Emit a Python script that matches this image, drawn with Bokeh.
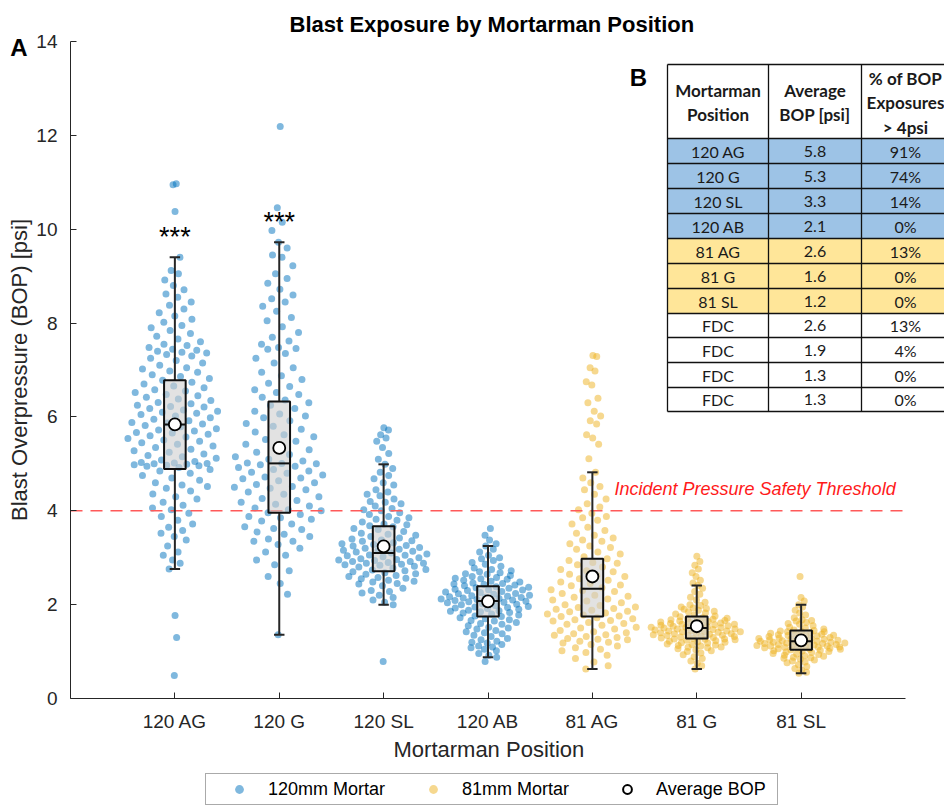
import numpy as np
from bokeh.plotting import figure
from bokeh.layouts import column
from bokeh.models import (Range1d, FixedTicker, Legend, LegendItem, Title, ColumnDataSource,
                          LinearAxis)
from bokeh.core.properties import value
from bokeh.embed import file_html
from bokeh.resources import INLINE

# ---------------- data ----------------
categories = ["120 AG", "120 G", "120 SL", "120 AB", "81 AG", "81 G", "81 SL"]
mortar = ["120mm", "120mm", "120mm", "120mm", "81mm", "81mm", "81mm"]

bop_120_ag = [
    10.97, 10.95, 10.38,
    9.40, 9.12, 9.05,
    8.92, 8.80, 8.71, 8.62, 8.55,
    8.45, 8.38, 8.30, 8.22, 8.15, 8.08, 8.02,
    7.95, 7.90, 7.84, 7.78, 7.72, 7.66, 7.60, 7.55, 7.52,
    7.48, 7.44, 7.42, 7.40, 7.38, 7.36, 7.33, 7.30, 7.25, 7.20, 7.15, 7.10, 7.05, 7.02,
    6.98, 6.95, 6.90, 6.86, 6.82, 6.78, 6.74, 6.70, 6.66, 6.62, 6.58, 6.55, 6.52,
    6.48, 6.45, 6.42, 6.38, 6.35, 6.31, 6.28, 6.25, 6.22, 6.21, 6.18, 6.15, 6.12, 6.10, 6.08, 6.05, 6.02,
    5.98, 5.95, 5.92, 5.88, 5.87, 5.85, 5.82, 5.79, 5.75, 5.72, 5.70, 5.67, 5.66, 5.63, 5.60, 5.57, 5.54, 5.51,
    5.48, 5.45, 5.42, 5.38, 5.35, 5.31, 5.28, 5.25, 5.21, 5.18, 5.15, 5.12, 5.08, 5.05, 5.03, 5.02, 5.01, 5.00,
    4.99, 4.98, 4.97, 4.96, 4.95, 4.92, 4.88, 4.85, 4.80, 4.75, 4.70, 4.65, 4.60, 4.55, 4.52,
    4.48, 4.42, 4.36, 4.30, 4.25, 4.18, 4.12, 4.06, 4.02,
    3.95, 3.88, 3.80, 3.72, 3.65, 3.58, 3.52,
    3.45, 3.38, 3.25, 3.12, 3.05,
    2.95, 2.88, 2.76,
    1.77, 1.30, 0.49,
]

bop_120_g = [
    12.19, 10.46, 10.15, 9.97,
    9.72, 9.60, 9.45, 9.40, 9.22, 9.05,
    8.95, 8.85, 8.72, 8.60, 8.52,
    8.45, 8.36, 8.25, 8.12, 8.05,
    7.92, 7.80, 7.70, 7.62, 7.55,
    7.48, 7.46, 7.44, 7.35, 7.25, 7.15, 7.05,
    6.95, 6.88, 6.80, 6.72, 6.65, 6.58, 6.52,
    6.48, 6.42, 6.36, 6.30, 6.25, 6.18, 6.12, 6.06, 6.02,
    5.98, 5.92, 5.86, 5.80, 5.74, 5.68, 5.62, 5.58, 5.52,
    5.48, 5.42, 5.36, 5.30, 5.25, 5.20, 5.15, 5.10, 5.06, 5.02, 5.01, 5.00,
    4.98, 4.95, 4.92, 4.88, 4.85, 4.82, 4.80, 4.76, 4.72, 4.70, 4.68, 4.64, 4.60, 4.56, 4.52, 4.50,
    4.48, 4.45, 4.40, 4.35, 4.30, 4.26, 4.22, 4.18, 4.14, 4.10, 4.06, 4.02, 4.00,
    3.96, 3.92, 3.88, 3.85, 3.82, 3.78, 3.72, 3.66, 3.62, 3.60, 3.55, 3.50,
    3.45, 3.40, 3.35, 3.35, 3.28, 3.20, 3.12, 3.05,
    2.95, 2.85, 2.72, 2.60,
    2.45, 2.22,
    1.36,
]

bop_120_sl = [
    5.77, 5.72, 5.62, 5.55, 5.48, 5.35, 5.22, 5.10,
    4.99, 4.90, 4.82, 4.75, 4.68, 4.60, 4.55,
    4.45, 4.40, 4.35, 4.32, 4.25, 4.20, 4.18, 4.15, 4.10, 4.05, 4.02, 4.00,
    3.96, 3.92, 3.88, 3.85, 3.82, 3.80, 3.76, 3.72, 3.70, 3.68, 3.66, 3.62, 3.60, 3.56, 3.52, 3.50,
    3.48, 3.45, 3.42, 3.40, 3.38, 3.36, 3.35, 3.32, 3.30, 3.28, 3.26, 3.25, 3.22, 3.22, 3.20, 3.18,
    3.16, 3.15, 3.14, 3.12, 3.10, 3.08, 3.06, 3.05, 3.04, 3.02, 3.00,
    2.98, 2.96, 2.95, 2.94, 2.92, 2.92, 2.90, 2.88, 2.88, 2.86, 2.85, 2.84, 2.82, 2.80, 2.78,
    2.75, 2.74, 2.72, 2.70, 2.68, 2.66, 2.65, 2.62, 2.60, 2.58, 2.56, 2.55, 2.52, 2.50,
    2.48, 2.45, 2.44, 2.40, 2.35, 2.30, 2.28, 2.25, 2.20, 2.15, 2.10, 2.05, 2.00,
    0.79,
]

bop_120_ab = [
    3.62, 3.48, 3.38, 3.30,
    3.25, 3.18, 3.12, 3.05, 3.00,
    2.98, 2.94, 2.90, 2.86, 2.82, 2.78, 2.75,
    2.72, 2.70, 2.68, 2.66, 2.65, 2.62, 2.60, 2.58, 2.56, 2.55, 2.54, 2.52, 2.50,
    2.48, 2.46, 2.45, 2.44, 2.43, 2.42, 2.40, 2.38, 2.37, 2.36, 2.35, 2.33, 2.32, 2.31, 2.30, 2.28, 2.27, 2.26,
    2.24, 2.23, 2.22, 2.20, 2.19, 2.18, 2.17, 2.16, 2.15, 2.14, 2.13, 2.12, 2.11, 2.10, 2.09, 2.08, 2.07,
    2.06, 2.05, 2.04, 2.02, 2.01, 2.00,
    1.98, 1.96, 1.95, 1.94, 1.93, 1.92, 1.90, 1.88, 1.87, 1.86, 1.85, 1.83, 1.82, 1.80, 1.78, 1.76, 1.75,
    1.72, 1.70, 1.68, 1.66, 1.65, 1.62, 1.60, 1.58, 1.55, 1.52, 1.50,
    1.48, 1.45, 1.42, 1.40, 1.38, 1.35, 1.32, 1.28, 1.25,
    1.22, 1.20, 1.18, 1.15, 1.12, 1.10, 1.08, 1.05, 1.02,
    0.96, 0.92, 0.88, 0.79,
]

bop_81_ag = [
    7.31, 7.29, 7.05, 6.98, 6.75, 6.68, 6.40, 6.30, 6.12, 6.02, 5.92, 5.85, 5.62, 5.55, 5.42, 5.11,
    4.82, 4.70, 4.60, 4.52,
    4.45, 4.35, 4.25, 4.15, 4.08, 4.02,
    3.95, 3.88, 3.85, 3.80, 3.72, 3.65, 3.58, 3.52,
    3.48, 3.42, 3.38, 3.35, 3.30, 3.25, 3.22, 3.18, 3.12, 3.08, 3.02,
    2.98, 2.94, 2.90, 2.88, 2.85, 2.80, 2.75, 2.72, 2.70, 2.65, 2.62, 2.60, 2.55, 2.52,
    2.48, 2.45, 2.42, 2.40, 2.36, 2.32, 2.30, 2.28, 2.24, 2.20, 2.18, 2.16, 2.12, 2.10, 2.08, 2.04, 2.00,
    1.98, 1.95, 1.94, 1.92, 1.90, 1.88, 1.86, 1.85, 1.82, 1.80, 1.78, 1.76, 1.75, 1.72, 1.70,
    1.68, 1.66, 1.65, 1.62, 1.60, 1.58, 1.56, 1.52, 1.50,
    1.48, 1.45, 1.42, 1.40, 1.38, 1.36, 1.35, 1.32, 1.30, 1.28, 1.26, 1.25, 1.22, 1.20,
    1.18, 1.15, 1.12, 1.08, 1.05, 1.02,
    0.98, 0.92, 0.85, 0.78, 0.70, 0.63,
]

bop_81_g = [
    3.03, 2.92, 2.84, 2.76, 2.68, 2.60, 2.52, 2.46,
    2.41, 2.35, 2.28, 2.22, 2.16, 2.10, 2.05, 2.00,
    1.98, 1.95, 1.93, 1.92, 1.90, 1.88, 1.86, 1.85, 1.82, 1.80, 1.78, 1.76,
    1.74, 1.72, 1.71, 1.70, 1.69, 1.68, 1.67, 1.66, 1.65, 1.64, 1.63, 1.62, 1.61, 1.60,
    1.59, 1.58, 1.58, 1.57, 1.56, 1.55, 1.55, 1.54, 1.53, 1.52, 1.52, 1.51, 1.50,
    1.49, 1.48, 1.48, 1.47, 1.46, 1.45, 1.44, 1.44, 1.43, 1.42, 1.42, 1.41, 1.40,
    1.39, 1.38, 1.38, 1.37, 1.36, 1.35, 1.35, 1.34, 1.33, 1.32, 1.31, 1.30,
    1.29, 1.28, 1.27, 1.27, 1.26, 1.25,
    1.24, 1.23, 1.22, 1.21, 1.20, 1.19, 1.18, 1.16, 1.15, 1.14, 1.13, 1.12,
    1.10, 1.09, 1.08, 1.06, 1.04, 1.02, 1.00,
    0.97, 0.93, 0.89, 0.85, 0.80, 0.75, 0.70, 0.63,
]

bop_81_sl = [
    2.60, 2.15, 2.08,
    2.00, 1.95, 1.88, 1.82, 1.78,
    1.72, 1.68, 1.66, 1.65, 1.62, 1.60, 1.58, 1.55, 1.52, 1.50,
    1.48, 1.46, 1.45, 1.44, 1.43, 1.42, 1.42, 1.40, 1.39, 1.38, 1.37, 1.36, 1.35, 1.35,
    1.34, 1.33, 1.32, 1.31, 1.30, 1.29, 1.28, 1.28, 1.27, 1.26, 1.25, 1.25,
    1.24, 1.23, 1.22, 1.22, 1.21, 1.20, 1.20, 1.19, 1.18, 1.18, 1.17, 1.17, 1.16, 1.15, 1.15,
    1.14, 1.13, 1.13, 1.12, 1.12, 1.11, 1.10, 1.09, 1.09, 1.08, 1.08, 1.07, 1.06, 1.05, 1.05,
    1.04, 1.03, 1.02, 1.01, 1.00,
    0.99, 0.98, 0.96, 0.95, 0.94, 0.92, 0.91, 0.90, 0.88, 0.87, 0.86, 0.84, 0.82, 0.80, 0.78, 0.76,
    0.72, 0.68, 0.64, 0.60, 0.56, 0.54,
]

groups = [bop_120_ag, bop_120_g, bop_120_sl, bop_120_ab, bop_81_ag, bop_81_g, bop_81_sl]

# box-plot statistics
whisker_lo = [2.76, 1.36, 2.00, 0.88, 0.63, 0.63, 0.54]
q1 = [4.89, 3.96, 2.71, 1.75, 1.75, 1.28, 1.04]
median = [5.84, 5.01, 3.10, 2.08, 2.34, 1.50, 1.22]
q3 = [6.78, 6.33, 3.67, 2.39, 2.98, 1.75, 1.45]
whisker_hi = [9.40, 9.72, 4.99, 3.25, 4.82, 2.41, 2.00]
mean_bop = [5.84, 5.34, 3.24, 2.07, 2.60, 1.54, 1.24]

significance = ["***", "***"]          # for the first two positions
significance_y = [9.91, 10.23]

threshold_psi = 4.0
y_ticks = [0, 2, 4, 6, 8, 10, 12, 14]

legend_labels = ["120mm Mortar", "81mm Mortar", "Average BOP"]

# table (panel B)
table_header = [["Mortarman", "Position"], ["Average", "BOP [psi]"], ["% of BOP", "Exposures", "> 4psi"]]
table_position = ["120 AG", "120 G", "120 SL", "120 AB", "81 AG", "81 G", "81 SL", "FDC", "FDC", "FDC", "FDC"]
table_avg = ["5.8", "5.3", "3.3", "2.1", "2.6", "1.6", "1.2", "2.6", "1.9", "1.3", "1.3"]
table_pct = ["91%", "74%", "14%", "0%", "13%", "0%", "0%", "13%", "4%", "0%", "0%"]
table_group = ["120", "120", "120", "120", "81", "81", "81", "FDC", "FDC", "FDC", "FDC"]

# ---------------- styling / layout ----------------
FONT = "Liberation Sans"
TFONT = "Lato"
BLUE = "#0072BD"
GOLD = "#EDB120"
AX = "#262626"

W, H_MAIN, H_LEG = 944, 765, 40
FL, FR, FT, FB = 70, 944, 41, 698     # frame edges in page pixels
PXX = 104.375                         # pixels per category unit
PXY = (FB - FT) / 14.0                # pixels per psi
X_END = (FR - FL) / PXX


def dx(px):
    return (px - FL) / PXX


def dy(py):
    return (FB - py) / PXY


def swarm_offsets(vals, half_width=0.45):
    y = np.asarray(vals, float)
    n = len(y)
    q75, q25 = np.percentile(y, [75, 25])
    h = 0.9 * min(y.std(), (q75 - q25) / 1.34) * n ** (-0.2)
    dens = np.exp(-0.5 * ((y[:, None] - y[None, :]) / h) ** 2).sum(1)
    dens = dens / dens.max()
    order = np.argsort(y, kind="stable")
    u = np.empty(n)
    u[order] = 2.0 * ((np.arange(n) * 0.6180339887 + 0.3) % 1.0) - 1.0
    return dens * half_width * u


p = figure(width=W, height=H_MAIN, output_backend="svg", toolbar_location=None,
           x_range=Range1d(0, X_END), y_range=Range1d(0, 14),
           min_border_left=FL, min_border_right=W - FR,
           min_border_top=FT, min_border_bottom=H_MAIN - FB)
p.outline_line_color = None
p.xgrid.grid_line_color = None
p.ygrid.grid_line_color = None
p.background_fill_color = "white"

# title
p.title.text = "Blast Exposure by Mortarman Position"
p.title.align = "left"
p.title.offset = 289 - FL
p.title.text_font = FONT
p.title.text_font_size = "22px"
p.title.text_font_style = "bold"
p.title.text_color = "black"
p.title.standoff = 10

# scatter points
xs, ys, cs = [], [], []
for i, vals in enumerate(groups):
    off = swarm_offsets(vals)
    xs.extend((i + 1 + off).tolist())
    ys.extend(vals)
    cs.extend([BLUE if mortar[i] == "120mm" else GOLD] * len(vals))
src = ColumnDataSource(dict(x=xs, y=ys, c=cs))
p.scatter("x", "y", source=src, size=7, fill_color="c", fill_alpha=0.5, line_color=None)

# threshold
p.segment(x0=[0], y0=[threshold_psi], x1=[8], y1=[threshold_psi], line_color="#ff5a5a",
          line_width=1.6, line_dash="12 8")
p.text(x=[dx(614)], y=[dy(488)], text=["Incident Pressure Safety Threshold"],
       text_font=value(FONT), text_font_size="18px", text_font_style="italic",
       text_color="#ff1a1a", text_align="left", text_baseline="middle")

# box plots
pos = np.arange(1, len(categories) + 1, dtype=float)
BW = 0.1035
CW = 0.05
p.segment(x0=pos, y0=q3, x1=pos, y1=whisker_hi, line_color=AX, line_width=2)
p.segment(x0=pos, y0=whisker_lo, x1=pos, y1=q1, line_color=AX, line_width=2)
p.segment(x0=pos - CW, y0=whisker_hi, x1=pos + CW, y1=whisker_hi, line_color=AX, line_width=2)
p.segment(x0=pos - CW, y0=whisker_lo, x1=pos + CW, y1=whisker_lo, line_color=AX, line_width=2)
p.quad(left=pos - BW, right=pos + BW, bottom=q1, top=q3, fill_color="#cfcfcf", fill_alpha=0.6,
       line_color="#111111", line_width=2)
p.segment(x0=pos - BW, y0=median, x1=pos + BW, y1=median, line_color="#111111", line_width=2)
p.scatter(pos, mean_bop, size=12, fill_color="white", line_color="black", line_width=1.8)

# significance stars
p.text(x=pos[:len(significance)], y=significance_y, text=significance, text_font=value(FONT),
       text_font_size="27px", text_color="black", text_align="center", text_baseline="middle",
       y_offset=4)

# ---------------- table (panel B) ----------------
col_px = [667, 768, 861, 951]
row_px = [64, 138, 163, 188, 213, 238, 263, 288, 313, 337, 362, 387, 411]
fills = {"120": "#9DC3E6", "81": "#FFE699", "FDC": "#FFFFFF"}
row_fill = ["#FFFFFF"] + [fills[g] for g in table_group]
p.quad(left=[dx(col_px[0])] * len(row_fill), right=[dx(col_px[-1])] * len(row_fill),
       top=[dy(v) for v in row_px[:-1]], bottom=[dy(v) for v in row_px[1:]],
       fill_color=row_fill, line_color=None)
hx0 = [dx(col_px[0])] * len(row_px)
hx1 = [dx(col_px[-1])] * len(row_px)
hy = [dy(v) for v in row_px]
p.segment(x0=hx0, y0=hy, x1=hx1, y1=hy, line_color="#111111", line_width=1.3)
vx = [dx(v) for v in col_px]
p.segment(x0=vx, y0=[dy(row_px[0])] * len(vx), x1=vx, y1=[dy(row_px[-1])] * len(vx),
          line_color="#111111", line_width=1.3)
ccx_px = [(col_px[i] + col_px[i + 1]) / 2 for i in range(3)]
ccx_px[2] = 905
hcy_px = (row_px[0] + row_px[1]) / 2 + 1
LINE = 24.5
hx, hyy, ht = [], [], []
for cx, lines in zip(ccx_px, table_header):
    m = len(lines)
    for k, t in enumerate(lines):
        hx.append(dx(cx))
        hyy.append(dy(hcy_px + (k - (m - 1) / 2) * LINE))
        ht.append(t)
p.text(x=hx, y=hyy, text=ht, text_font=value(TFONT), text_font_size="17px",
       text_font_style="bold", text_color="#1a1a1a", text_align="center", text_baseline="middle")
rcy = [dy((row_px[i] + row_px[i + 1]) / 2) for i in range(1, len(row_px) - 1)]
for cx, col in zip(ccx_px, [table_position, table_avg, table_pct]):
    p.text(x=[dx(cx)] * len(col), y=rcy, text=col, text_font=value(TFONT), text_font_size="16px",
           text_color="#1a1a1a", text_align="center", text_baseline="middle")

p.text(x=[dx(638)], y=[dy(77)], text=["B"], text_font=value(FONT), text_font_size="24px",
       text_font_style="bold", text_color="black", text_align="center", text_baseline="middle")

# ---------------- axes ----------------
p.xaxis.ticker = FixedTicker(ticks=pos.tolist())
p.xaxis.major_label_overrides = {int(k): c for k, c in zip(pos, categories)}
p.xaxis.bounds = (0, 8)
p.yaxis.ticker = FixedTicker(ticks=y_ticks)
p.yaxis.bounds = (0, 14)
for ax in (p.xaxis[0], p.yaxis[0]):
    ax.major_tick_in = 6
    ax.major_tick_out = 0
    ax.minor_tick_line_color = None
    ax.axis_line_color = AX
    ax.major_tick_line_color = AX
    ax.major_label_text_font = FONT
    ax.major_label_text_font_size = "19px"
    ax.major_label_text_color = AX
p.xaxis.major_label_standoff = 12
p.yaxis.major_label_standoff = 13
p.yaxis.axis_label = "Blast Overpressure (BOP) [psi]"
p.yaxis.axis_label_text_font = FONT
p.yaxis.axis_label_text_font_size = "22px"
p.yaxis.axis_label_text_font_style = "normal"
p.yaxis.axis_label_text_color = AX
p.yaxis.axis_label_standoff = 1

# panel letter "A": an outer left axis in frame-pixel units with a single labelled tick
p.extra_y_ranges = {"panel_px": Range1d(0, FB - FT)}
a_tick = FB - 47
ax_a = LinearAxis(y_range_name="panel_px", ticker=FixedTicker(ticks=[a_tick]),
                  major_label_overrides={a_tick: "A"}, axis_line_color=None,
                  major_tick_line_color=None, minor_tick_line_color=None,
                  major_tick_in=0, major_tick_out=0, major_label_standoff=-23,
                  major_label_text_font=FONT, major_label_text_font_size="24px",
                  major_label_text_font_style="bold", major_label_text_color="black")
p.add_layout(ax_a, "left")

p.add_layout(Title(text="Mortarman Position", align="left", offset=393 - FL, text_font=FONT,
                   text_font_size="22px", text_font_style="normal", text_color=AX,
                   standoff=0), "below")

# ---------------- legend strip (own small figure below the chart) ----------------
leg = figure(width=W, height=H_LEG, output_backend="svg", toolbar_location=None,
             x_range=Range1d(0, 1), y_range=Range1d(0, 1),
             x_axis_location=None, y_axis_location=None,
             min_border_left=0, min_border_right=0, min_border_top=0, min_border_bottom=0)
leg.outline_line_color = None
leg.xgrid.visible = False
leg.ygrid.visible = False
# legend proxies: one point each, kept outside the strip's visible range
r120 = leg.scatter(x=[-5], y=[-5], size=10, fill_color=BLUE, fill_alpha=0.5, line_color=None)
r81 = leg.scatter(x=[-5], y=[-5], size=10, fill_color=GOLD, fill_alpha=0.5, line_color=None)
ravg = leg.scatter(x=[-5], y=[-5], size=10, fill_color="white", line_color="black", line_width=2)
legend = Legend(items=[LegendItem(label=lab, renderers=[r])
                       for lab, r in zip(legend_labels, [r120, r81, ravg])],
                location=(205 - FL, 0), orientation="horizontal",
                label_text_font=FONT, label_text_font_size="18px", label_text_color="black",
                glyph_width=58, glyph_height=22, label_height=22, label_standoff=0,
                label_width=117, spacing=19, padding=4, margin=0,
                border_line_color="#555555", border_line_width=1,
                background_fill_color="white", background_fill_alpha=1)
leg.add_layout(legend)

layout = column(p, leg, spacing=0)
open("out.html", "w").write(file_html(layout, INLINE))
